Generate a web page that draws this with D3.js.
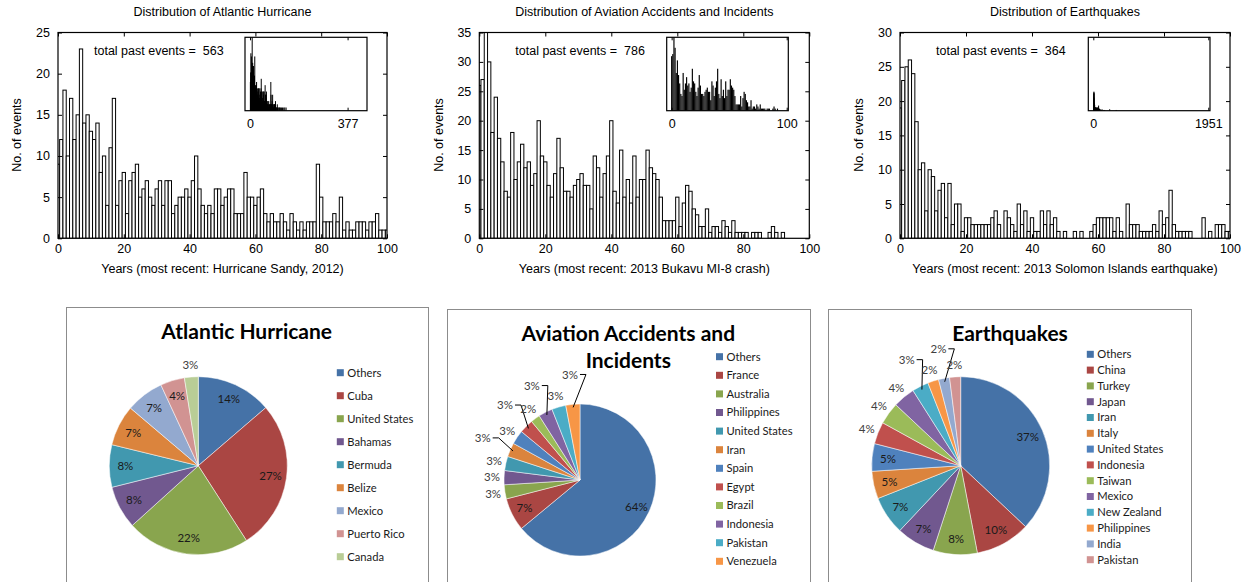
<!DOCTYPE html>
<html><head><meta charset="utf-8">
<script src="https://cdn.jsdelivr.net/npm/d3@7"></script>
<style>
body{margin:0;background:#fff}
svg{display:block}
.hist text{font-family:"Liberation Sans",Arial,sans-serif;fill:#000}
.pie text{font-family:Lato,"Open Sans",sans-serif}
</style>
</head><body>
<svg id="c" width="1251" height="582"></svg>
<script>
// ================= DATA =================
const years = d3.range(0, 101);               // years since event (0..100)
const xTicks = [0, 20, 40, 60, 80, 100];

const hurricaneCounts = [9,12,18,10,17,12,15,23,14,15,13,12,14,8,10,4,11,17,4,7,
  8,3,7,8,9,5,6,7,5,4,6,7,4,7,7,3,4,5,5,6,5,7,10,6,4,3,4,3,6,6,
  4,5,6,6,3,3,3,8,5,5,4,5,6,3,2,3,2,2,3,2,1,3,2,1,2,1,2,2,2,9,
  5,2,2,2,3,2,5,1,2,1,1,2,2,2,1,2,2,3,1,1,1];
const aviationCounts = [26,27,38,30,18,24,17,13,8,7,18,10,13,16,12,13,9,11,20,14,
  13,9,7,11,17,12,8,8,7,9,10,11,9,9,5,14,12,7,11,14,20,8,6,15,7,10,6,14,7,10,
  10,15,12,11,10,7,3,3,3,3,7,2,6,9,8,5,4,2,2,5,1,2,2,1,3,2,1,3,1,1,
  1,1,0,1,1,1,0,0,1,2,1,0,1,0,0,0,0,0,0,0,0];
const earthquakeCounts = [19,23,25,26,24,17,10,11,4,10,9,4,7,8,3,8,2,5,5,1,
  3,3,2,2,2,2,2,2,3,4,2,0,4,3,2,1,5,2,4,1,3,1,1,4,2,4,2,3,1,0,
  1,0,0,1,0,1,0,0,1,2,3,3,3,3,3,1,3,1,0,5,2,2,2,1,1,1,1,2,1,4,
  2,3,7,2,1,1,1,1,1,0,0,0,3,0,1,0,2,2,2,1,1];

// events older than 100 years (shown only in the insets)
const hurricaneTailYears  = [102,104,105,108,111,113,116,120,124,129,133,138];
const hurricaneTailCounts = [1,2,1,1,1,1,1,1,1,1,1,1];
const earthquakeTailYears  = [110,125,140,160,185,270,380];
const earthquakeTailCounts = [2,1,2,1,1,2,1];

const yTicksHurricane  = [0, 5, 10, 15, 20, 25];
const yTicksAviation   = [0, 5, 10, 15, 20, 25, 30, 35];
const yTicksEarthquake = [0, 5, 10, 15, 20, 25, 30];

const histTitles = ["Distribution of Atlantic Hurricane",
  "Distribution of Aviation Accidents and Incidents",
  "Distribution of Earthquakes"];
const histXLabels = ["Years (most recent: Hurricane Sandy, 2012)",
  "Years (most recent: 2013 Bukavu MI-8 crash)",
  "Years (most recent: 2013 Solomon Islands earthquake)"];
const totalPastEvents = [563, 786, 364];
const insetTickLabels = [[0, 377], [0, 100], [0, 1951]];

const hurricaneCountries = ["Others","Cuba","United States","Bahamas","Bermuda","Belize","Mexico","Puerto Rico","Canada"];
const hurricaneShares    = [13.7, 27.2, 22.4, 7.8, 7.7, 7.4, 6.9, 4.4, 2.5];
const aviationCountries  = ["Others","France","Australia","Philippines","United States","Iran","Spain","Egypt","Brazil","Indonesia","Pakistan","Venezuela"];
const aviationShares     = [64, 7, 3, 3, 3, 3, 3, 3, 2, 3, 3, 3];
const earthquakeCountries = ["Others","China","Turkey","Japan","Iran","Italy","United States","Indonesia","Taiwan","Mexico","New Zealand","Philippines","India","Pakistan"];
const earthquakeShares    = [37, 10, 8, 7, 7, 5, 5, 4, 4, 4, 3, 2, 2, 2];

const pieTitles = [["Atlantic Hurricane"], ["Aviation Accidents and", "Incidents"], ["Earthquakes"]];

// ================= STYLE / LAYOUT =================
const excelDark  = ["#4572A7","#AA4643","#89A54E","#71588F","#4198AF","#DB843D"];
const excelStd   = ["#4F81BD","#C0504D","#9BBB59","#8064A2","#4BACC6","#F79646"];
const excelLight = ["#93A9CF","#D19392","#B9CD96","#A99BBD","#92C3D5","#FAB78A"];

const svg = d3.select("#c");
const PLOT_TOP = 32.5, PLOT_BOTTOM = 238.3;
const HFONT = 12.5;

function drawHist(o) {
  const g = svg.append("g").attr("class", "hist");
  const x = d3.scaleLinear().domain([0, 100]).range([o.left, o.right]);
  const y = d3.scaleLinear().domain([0, o.yMax]).range([PLOT_BOTTOM, PLOT_TOP]);
  const cid = "clip" + o.id;
  g.append("clipPath").attr("id", cid).append("rect")
    .attr("x", o.left).attr("y", PLOT_TOP).attr("width", o.right - o.left).attr("height", PLOT_BOTTOM - PLOT_TOP);
  const data = years.map((yr, i) => ({yr, v: o.counts[i]})).filter(d => d.v > 0);
  g.append("g").attr("clip-path", `url(#${cid})`).selectAll("rect").data(data).join("rect")
    .attr("x", d => x(d.yr - 0.5)).attr("width", d => x(d.yr + 0.5) - x(d.yr - 0.5))
    .attr("y", d => y(d.v)).attr("height", d => y(0) - y(d.v))
    .attr("fill", "#fff").attr("stroke", "#000").attr("stroke-width", 1);

  const ax = (sel) => { sel.select(".domain").remove(); sel.selectAll("text").attr("font-size", HFONT).attr("font-family", null); sel.selectAll("line").attr("stroke", "#000"); };
  g.append("g").attr("transform", `translate(0,${PLOT_BOTTOM})`)
    .call(d3.axisBottom(x).tickValues(xTicks).tickSize(-4).tickPadding(6)).call(ax);
  g.append("g").attr("transform", `translate(0,${PLOT_TOP})`)
    .call(d3.axisTop(x).tickValues(xTicks).tickSize(-4).tickFormat("")).call(ax);
  g.append("g").attr("transform", `translate(0,0)`).attr("transform", `translate(${o.left},0)`)
    .call(d3.axisLeft(y).tickValues(o.yTicks).tickSize(-4).tickPadding(8)).call(ax);
  g.append("g").attr("transform", `translate(${o.right},0)`)
    .call(d3.axisRight(y).tickValues(o.yTicks).tickSize(-4).tickFormat("")).call(ax);
  g.append("rect").attr("x", o.left).attr("y", PLOT_TOP).attr("width", o.right - o.left).attr("height", PLOT_BOTTOM - PLOT_TOP)
    .attr("fill", "none").attr("stroke", "#000").attr("stroke-width", 1.2);

  const cx = (o.left + o.right) / 2;
  g.append("text").attr("x", cx).attr("y", 12).attr("dy", "0.35em").attr("text-anchor", "middle").attr("font-size", HFONT).text(o.title);
  g.append("text").attr("x", cx).attr("y", 269).attr("dy", "0.35em").attr("text-anchor", "middle").attr("font-size", HFONT).text(o.xLabel);
  g.append("text").attr("transform", `translate(${o.left - 41},135) rotate(-90)`).attr("dy", "0.35em")
    .attr("text-anchor", "middle").attr("font-size", HFONT).text("No. of events");
  g.append("text").attr("x", o.left + 36).attr("y", 51).attr("dy", "0.35em").attr("font-size", HFONT)
    .style("white-space", "pre").text("total past events =  " + o.total);

  // inset
  const b = o.inset;
  const xi = d3.scaleLinear().domain(b.domain).range([b.x0, b.x1]);
  const yi = d3.scaleLinear().domain([0, b.yMax]).range([b.y1, b.y0]).clamp(true);
  const ig = g.append("g");
  ig.append("rect").attr("x", b.x0).attr("y", b.y0).attr("width", b.x1 - b.x0).attr("height", b.y1 - b.y0).attr("fill", "#fff");
  const idata = data.concat(b.tailYears.map((yr, i) => ({yr, v: b.tailCounts[i]})));
  ig.selectAll("rect.ib").data(idata).join("rect").attr("class", "ib")
    .attr("x", d => xi(d.yr - 0.5)).attr("width", d => Math.max(1, xi(d.yr + 0.5) - xi(d.yr - 0.5)))
    .attr("y", d => yi(d.v)).attr("height", d => yi(0) - yi(d.v)).attr("fill", "#000");
  const ia = (sel) => { sel.select(".domain").remove(); sel.selectAll("line").attr("stroke", "#000"); sel.selectAll("text").attr("font-size", HFONT).attr("font-family", null); };
  ig.append("g").attr("transform", `translate(0,${b.y1})`)
    .call(d3.axisBottom(xi).tickValues(b.labels).tickFormat(d3.format("d")).tickSize(-3).tickPadding(8)).call(ia);
  ig.append("g").attr("transform", `translate(0,${b.y0})`)
    .call(d3.axisTop(xi).tickValues(b.labels).tickSize(-3).tickFormat("")).call(ia);
  ig.append("rect").attr("x", b.x0).attr("y", b.y0).attr("width", b.x1 - b.x0).attr("height", b.y1 - b.y0)
    .attr("fill", "none").attr("stroke", "#000").attr("stroke-width", 1.2);
}

drawHist({id: 1, left: 58, right: 387, yMax: 25, yTicks: yTicksHurricane, counts: hurricaneCounts,
  title: histTitles[0], xLabel: histXLabels[0], total: totalPastEvents[0],
  inset: {x0: 245, x1: 367, y0: 37.3, y1: 110.7, domain: [-19.3, 452], yMax: 23, labels: insetTickLabels[0],
          tailYears: hurricaneTailYears, tailCounts: hurricaneTailCounts}});
drawHist({id: 2, left: 479.3, right: 809.3, yMax: 35, yTicks: yTicksAviation, counts: aviationCounts,
  title: histTitles[1], xLabel: histXLabels[1], total: totalPastEvents[1],
  inset: {x0: 666.7, x1: 788.3, y0: 37.3, y1: 110.7, domain: [-4.3, 101.4], yMax: 35, labels: insetTickLabels[1],
          tailYears: [], tailCounts: []}});
drawHist({id: 3, left: 900, right: 1230, yMax: 30, yTicks: yTicksEarthquake, counts: earthquakeCounts,
  title: histTitles[2], xLabel: histXLabels[2], total: totalPastEvents[2],
  inset: {x0: 1088.3, x1: 1210, y0: 37.3, y1: 110.7, domain: [-84.8, 1980], yMax: 100, labels: insetTickLabels[2],
          tailYears: earthquakeTailYears, tailCounts: earthquakeTailCounts}});

// ================= PIES =================
function drawPie(o) {
  const g = svg.append("g").attr("class", "pie");
  g.append("rect").attr("x", o.box[0] + 0.5).attr("y", o.box[1] + 0.5).attr("width", o.box[2]).attr("height", 320)
    .attr("fill", "#fff").attr("stroke", "#8c8c8c");
  o.title.forEach((t, i) => g.append("text").attr("x", o.titleX).attr("y", o.titleY + i * 27.6)
    .attr("text-anchor", "middle").attr("font-size", 21).attr("font-weight", "bold").attr("fill", "#000").text(t));
  const data = o.names.map((n, i) => ({name: n, v: o.values[i], color: o.colors[i]}));
  const total = d3.sum(data, d => d.v);
  const arcs = d3.pie().sort(null).value(d => d.v)(data);
  const arc = d3.arc().innerRadius(0).outerRadius(o.r);
  const pg = g.append("g").attr("transform", `translate(${o.cx},${o.cy})`);
  pg.selectAll("path").data(arcs).join("path").attr("d", arc)
    .attr("fill", d => d.data.color).attr("stroke", "#fff").attr("stroke-width", 0.5);

  const placed = [];
  arcs.forEach(d => {
    const mid = (d.startAngle + d.endAngle) / 2, s = Math.sin(mid), c = -Math.cos(mid);
    const label = Math.round(d.data.v / total * 100) + "%";
    const t = pg.append("text").attr("font-size", 11.5).attr("text-anchor", "middle").attr("dy", "0.35em").text(label);
    const w = t.node().getComputedTextLength();
    const inside = 0.82 * o.r * (d.endAngle - d.startAngle) >= 19;
    if (inside) {
      t.attr("x", s * 0.82 * o.r).attr("y", c * 0.82 * o.r).attr("fill", "#1a1a1a");
      return;
    }
    const at = R => ({x: s * R, y: c * R});
    const hit = p => placed.some(q => Math.abs(q.x - p.x) < (q.w + w) / 2 + 6 && Math.abs(q.y - p.y) < 16);
    let R = o.r + 12, pos = at(R), leader = false;
    if (hit(pos)) {
      leader = true; R = o.r + 30; pos = at(R);
      while (hit(pos) && R < o.r * 2) { R += 1; pos = at(R); }
    }
    placed.push({x: pos.x, y: pos.y, w});
    t.attr("x", pos.x).attr("y", pos.y).attr("fill", "#404040");
    if (leader) {
      const ex = s * o.r * 0.96, ey = c * o.r * 0.96;
      const side = s < 0 ? 1 : -1;
      const lx = pos.x + side * (w / 2 + 2);
      pg.append("polyline").attr("points", `${lx},${pos.y} ${lx + side * 6},${pos.y} ${ex},${ey}`)
        .attr("fill", "none").attr("stroke", "#000").attr("stroke-width", 1);
    }
  });

  data.forEach((d, i) => {
    const yy = o.legendY + i * o.legendStep;
    g.append("rect").attr("x", o.legendX - 10.5).attr("y", yy - 3.5).attr("width", 7).attr("height", 7).attr("fill", d.color);
    g.append("text").attr("x", o.legendX).attr("y", yy).attr("dy", "0.35em").attr("font-size", 11.2).attr("fill", "#1a1a1a").text(d.name);
  });
}

drawPie({box: [66, 307, 362], title: pieTitles[0], titleX: 246.7, titleY: 339.3,
  names: hurricaneCountries, values: hurricaneShares, colors: excelDark.concat(excelLight.slice(0, 3)),
  cx: 198.3, cy: 465.7, r: 89, legendX: 347.3, legendY: 372.7, legendStep: 23});
drawPie({box: [447, 309, 363], title: pieTitles[1], titleX: 628.3, titleY: 340.7,
  names: aviationCountries, values: aviationShares, colors: excelDark.concat(excelStd),
  cx: 580, cy: 480, r: 76, legendX: 726.5, legendY: 356.7, legendStep: 18.6});
drawPie({box: [828, 309, 363], title: pieTitles[2], titleX: 1010, titleY: 340.7,
  names: earthquakeCountries, values: earthquakeShares, colors: excelDark.concat(excelStd, excelLight.slice(0, 2)),
  cx: 960.7, cy: 465.7, r: 89, legendX: 1097.3, legendY: 354.3, legendStep: 15.8});
</script>
</body></html>
